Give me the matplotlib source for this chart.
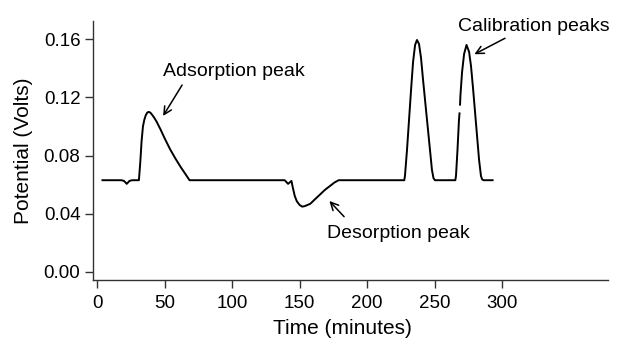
import numpy as np
import matplotlib
matplotlib.use("Agg")
import matplotlib.pyplot as plt

plt.rcParams['font.family'] = ['Liberation Sans', 'DejaVu Sans']

# time (minutes) and electrode potential (V), read segment by segment
time_min = [4, 18, 20, 22, 24, 26, 31, 32, 33, 34, 35, 36, 37, 38, 39, 40, 42, 44, 47, 50,
            54, 58, 62, 66, 68.5,
            139, 141.5, 144, 145, 146.5, 148, 150, 152, 154, 156, 158, 161, 165, 169, 172.5,
            176, 179,
            227.6, 228.1, 229.6, 231.1, 232.6, 234.1, 235.6, 237.0, 238.5, 240.0, 241.5, 243.7,
            245.9, 248.1, 249.2, 250.3,
            265.4, 265.9, 267.0, 268.1, 268.5, 268.7, 268.9, 269.2, 270.4, 271.9, 273.7, 275.6,
            277.0, 278.5, 280.0, 281.5, 283.0, 284.4, 285.3, 286.4, 293]
potential = [0.063, 0.063, 0.0625, 0.0605, 0.0625, 0.063, 0.063, 0.075, 0.090, 0.100,
             0.1045, 0.1075, 0.1093, 0.110, 0.1098, 0.109, 0.1065, 0.1035, 0.098, 0.092,
             0.0845, 0.078, 0.072, 0.0665, 0.063,
             0.063, 0.0605, 0.0625, 0.058, 0.052, 0.0485, 0.046, 0.0448, 0.0452, 0.046,
             0.0468, 0.0495, 0.053, 0.0565, 0.059, 0.0615, 0.063,
             0.063, 0.066, 0.0838, 0.1044, 0.1251, 0.1444, 0.1561, 0.1595, 0.1568, 0.1471,
             0.1320, 0.1113, 0.0907, 0.0700, 0.0645, 0.063,
             0.063, 0.066, 0.0838, 0.1044, 0.109, np.nan, 0.115, 0.1216, 0.1375, 0.1499,
             0.1561, 0.1513, 0.1417, 0.1265, 0.1100, 0.0934, 0.0769, 0.0659, 0.0635,
             0.063, 0.063]

x_ticks = [0, 50, 100, 150, 200, 250, 300]
y_ticks = [0.00, 0.04, 0.08, 0.12, 0.16]

fig = plt.figure(figsize=(6.25, 3.47), dpi=100)
ax = fig.add_axes([0.1488, 0.193, 0.824, 0.747])

ax.plot(time_min, potential, color='black', lw=1.4)

ax.set_xlim(-3, 378.5)
ax.set_ylim(-0.0057, 0.1727)
ax.set_xticks(x_ticks)
ax.set_yticks(y_ticks)
ax.set_yticklabels([f'{v:.2f}' for v in y_ticks])
ax.tick_params(labelsize=13.5, length=6, width=1, color='#333333')
ax.tick_params(axis='x', pad=5)
ax.tick_params(axis='y', pad=3)
for side in ['top', 'right']:
    ax.spines[side].set_visible(False)
for side in ['left', 'bottom']:
    ax.spines[side].set_color('#333333')
    ax.spines[side].set_linewidth(1)

ax.set_xlabel('Time (minutes)', fontsize=15)
ax.xaxis.set_label_coords(0.4835, -0.15)
ax.set_ylabel('Potential (Volts)', fontsize=15, labelpad=8)

arrow = dict(arrowstyle='->', color='black', lw=1.1, mutation_scale=14, shrinkA=0, shrinkB=0)
ax.annotate('', xy=(48.9, 0.1072), xytext=(63, 0.1285), arrowprops=arrow)
ax.text(48.9, 0.1375, 'Adsorption peak', fontsize=14, va='center', ha='left')

ax.annotate('', xy=(172.1, 0.0487), xytext=(183, 0.0379), arrowprops=arrow)
ax.text(170.4, 0.0266, 'Desorption peak', fontsize=14, va='center', ha='left')

ax.annotate('', xy=(279.5, 0.1497), xytext=(302.2, 0.1607), arrowprops=arrow)
ax.text(267.4, 0.1685, 'Calibration peaks', fontsize=14, va='center', ha='left')

fig.savefig('out.png', dpi=100)
